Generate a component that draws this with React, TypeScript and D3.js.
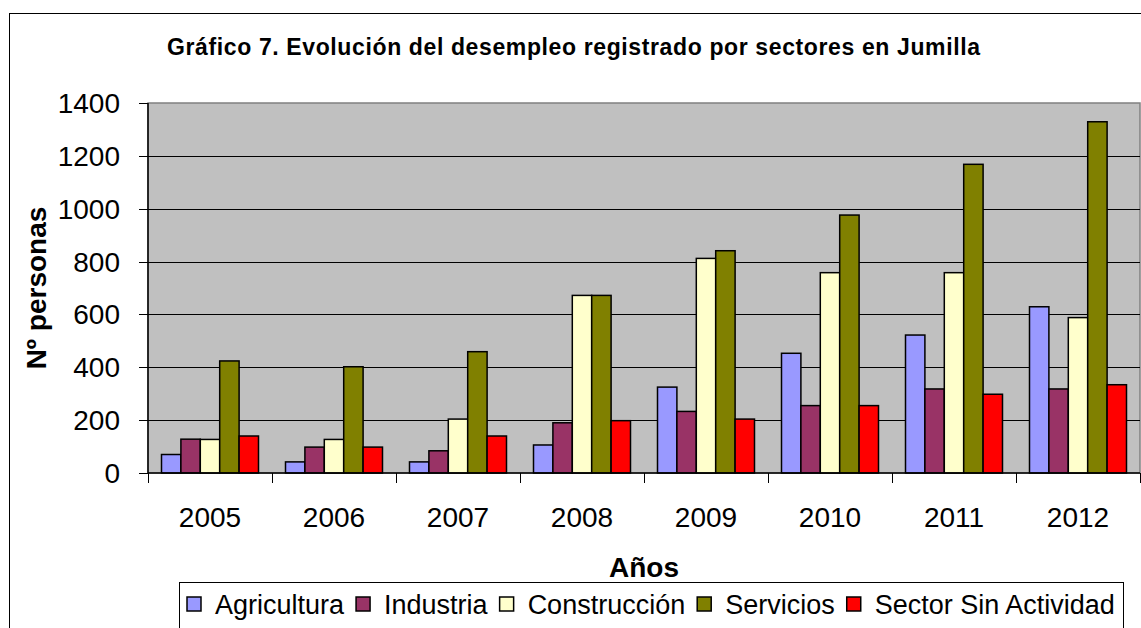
import { useEffect, useRef } from "react";
import * as d3 from "d3";

const years = ["2005", "2006", "2007", "2008", "2009", "2010", "2011", "2012"];
const agricultura = [70, 42, 42, 106, 325, 453, 522, 629];
const industria = [128, 98, 84, 190, 233, 255, 318, 318];
const construccion = [127, 127, 204, 672, 812, 758, 758, 588];
const servicios = [424, 402, 459, 672, 841, 976, 1168, 1329];
const sinActividad = [140, 98, 140, 198, 204, 255, 298, 334];
const seriesNames = ["Agricultura", "Industria", "Construcción", "Servicios", "Sector Sin Actividad"];
const seriesColors = ["#9999FF", "#993366", "#FFFFCC", "#808000", "#FF0000"];
const yTicks = [0, 200, 400, 600, 800, 1000, 1200, 1400];

const FONT = "'Liberation Sans', Arial, sans-serif";

export default function App() {
  const ref = useRef<SVGSVGElement | null>(null);

  useEffect(() => {
    const svg = d3.select(ref.current);
    svg.selectAll("*").remove();

    const series = [agricultura, industria, construccion, servicios, sinActividad];
    const plot = { left: 148, right: 1140, top: 103, bottom: 473 };

    // outer chart border
    svg.append("rect")
      .attr("x", 9.5).attr("y", 13.5)
      .attr("width", 1200).attr("height", 700)
      .attr("fill", "#fff").attr("stroke", "#000").attr("stroke-width", 1);

    // title
    svg.append("text")
      .attr("x", 573.5).attr("y", 55)
      .attr("text-anchor", "middle")
      .attr("font-family", FONT).attr("font-weight", "bold").attr("font-size", 23)
      .attr("textLength", 813)
      .text("Gráfico 7. Evolución del desempleo registrado por sectores en Jumilla");

    const x0 = d3.scaleBand().domain(years).range([plot.left, plot.right]).padding(0);
    const inset = 13.5;
    const x1 = d3.scaleBand().domain(seriesNames).range([inset, x0.bandwidth() - inset]).padding(0);
    const y = d3.scaleLinear().domain([0, 1400]).range([plot.bottom, plot.top]);

    // plot area
    svg.append("rect")
      .attr("x", plot.left).attr("y", plot.top)
      .attr("width", plot.right - plot.left).attr("height", plot.bottom - plot.top)
      .attr("fill", "#C0C0C0").attr("stroke", "#808080").attr("stroke-width", 1.5);

    // gridlines
    svg.append("g").selectAll("line")
      .data(yTicks.filter(t => t > 0 && t < 1400))
      .enter().append("line")
      .attr("x1", plot.left).attr("x2", plot.right)
      .attr("y1", d => Math.round(y(d)) + 0.5).attr("y2", d => Math.round(y(d)) + 0.5)
      .attr("stroke", "#000").attr("stroke-width", 1);

    // bars
    const groups = svg.append("g").selectAll("g")
      .data(years)
      .enter().append("g")
      .attr("transform", d => `translate(${x0(d)},0)`);

    groups.selectAll("rect")
      .data((_, i) => series.map((s, k) => ({ name: seriesNames[k], value: s[i], color: seriesColors[k] })))
      .enter().append("rect")
      .attr("x", d => x1(d.name) as number)
      .attr("y", d => y(d.value))
      .attr("width", x1.bandwidth())
      .attr("height", d => plot.bottom - y(d.value))
      .attr("fill", d => d.color)
      .attr("stroke", "#000").attr("stroke-width", 1.5);

    // y axis
    const yAxis = svg.append("g");
    yAxis.append("line")
      .attr("x1", plot.left).attr("x2", plot.left)
      .attr("y1", plot.top).attr("y2", plot.bottom)
      .attr("stroke", "#000").attr("stroke-width", 1.5);
    yAxis.selectAll("line.tick")
      .data(yTicks).enter().append("line")
      .attr("class", "tick")
      .attr("x1", plot.left - 9).attr("x2", plot.left)
      .attr("y1", d => Math.round(y(d)) + 0.5).attr("y2", d => Math.round(y(d)) + 0.5)
      .attr("stroke", "#000").attr("stroke-width", 1);
    yAxis.selectAll("text")
      .data(yTicks).enter().append("text")
      .attr("x", 120).attr("y", d => y(d) + 10)
      .attr("text-anchor", "end")
      .attr("font-family", FONT).attr("font-size", 28)
      .text(d => d);

    // x axis
    const xAxis = svg.append("g");
    xAxis.append("line")
      .attr("x1", plot.left).attr("x2", plot.right)
      .attr("y1", plot.bottom).attr("y2", plot.bottom)
      .attr("stroke", "#000").attr("stroke-width", 1.5);
    const bounds = years.map(d => x0(d) as number).concat([plot.right]);
    xAxis.selectAll("line.tick")
      .data(bounds).enter().append("line")
      .attr("class", "tick")
      .attr("x1", d => Math.round(d) + 0.5).attr("x2", d => Math.round(d) + 0.5)
      .attr("y1", plot.bottom).attr("y2", plot.bottom + 10)
      .attr("stroke", "#000").attr("stroke-width", 1);
    xAxis.selectAll("text")
      .data(years).enter().append("text")
      .attr("x", d => (x0(d) as number) + x0.bandwidth() / 2)
      .attr("y", 527)
      .attr("text-anchor", "middle")
      .attr("font-family", FONT).attr("font-size", 28)
      .text(d => d);

    // axis titles
    svg.append("text")
      .attr("transform", `translate(46,${(plot.top + plot.bottom) / 2}) rotate(-90)`)
      .attr("text-anchor", "middle")
      .attr("font-family", FONT).attr("font-weight", "bold").attr("font-size", 28)
      .text("Nº personas");
    svg.append("text")
      .attr("x", (plot.left + plot.right) / 2).attr("y", 577)
      .attr("text-anchor", "middle")
      .attr("font-family", FONT).attr("font-weight", "bold").attr("font-size", 28)
      .text("Años");

    // legend
    const legend = svg.append("g");
    legend.append("rect")
      .attr("x", 179.5).attr("y", 582.5)
      .attr("width", 944).attr("height", 80)
      .attr("fill", "#fff").attr("stroke", "#000").attr("stroke-width", 1);
    let cx = 187;
    seriesNames.forEach((name, k) => {
      legend.append("rect")
        .attr("x", cx).attr("y", 597)
        .attr("width", 14).attr("height", 14)
        .attr("fill", seriesColors[k]).attr("stroke", "#000").attr("stroke-width", 1.5);
      const t = legend.append("text")
        .attr("x", cx + 28).attr("y", 614)
        .attr("font-family", FONT).attr("font-size", 27)
        .text(name);
      const w = (t.node() as SVGTextElement).getComputedTextLength();
      cx = cx + 28 + w + 12;
    });
  }, []);

  return (
    <svg
      ref={ref}
      width={1141}
      height={628}
      style={{ position: "absolute", left: 0, top: 0, background: "#fff" }}
    />
  );
}
